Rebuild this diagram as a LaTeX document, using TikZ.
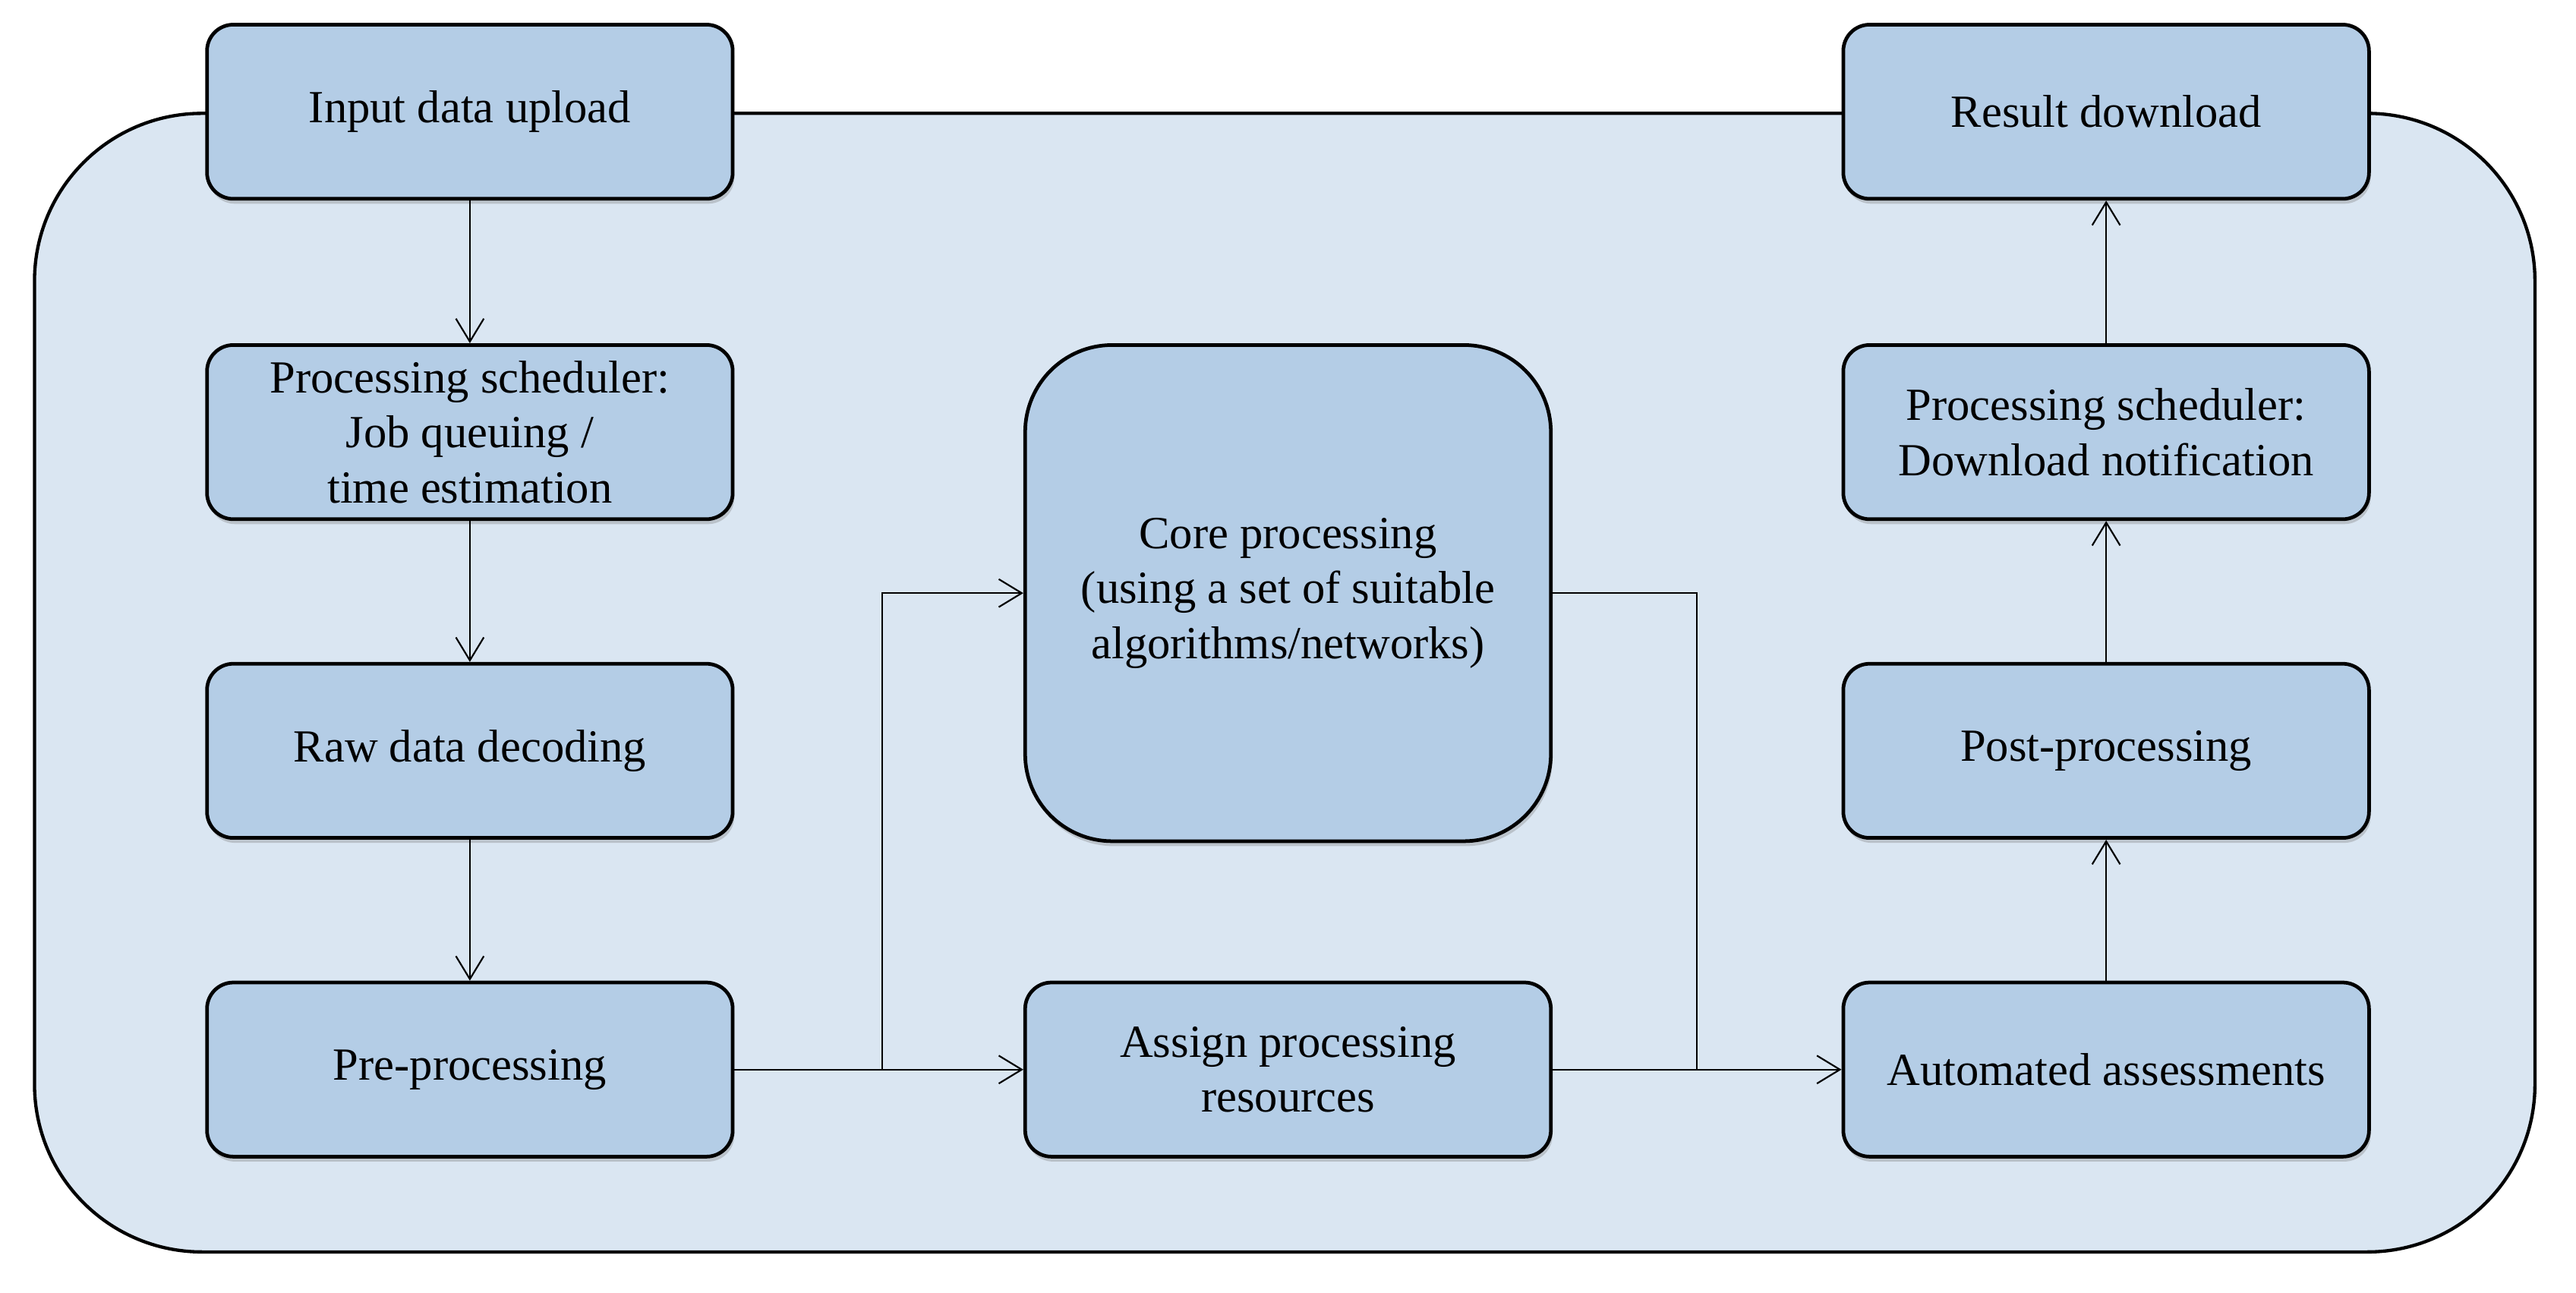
\documentclass[tikz,border=0pt]{standalone}
\usepackage{fontspec}
\setmainfont{Liberation Serif}
\usetikzlibrary{arrows.meta,shadows}
\definecolor{boxfill}{RGB}{180,205,230}
\definecolor{framefill}{RGB}{218,230,242}
\begin{document}
\begin{tikzpicture}[x=1pt,y=-1pt,
  stepbox/.style={draw=black, line width=2.2pt, fill=boxfill, rounded corners=16pt,
    minimum width=320pt, minimum height=106pt, inner sep=0pt, align=center,
    font=\fontsize{28}{33.5}\selectfont,
    drop shadow={shadow xshift=1pt, shadow yshift=-3pt, opacity=0.35}},
  corebox/.style={stepbox, minimum height=302pt, rounded corners=53pt},
  conn/.style={line width=1pt, -{Straight Barb[length=14pt,width=17pt,line width=1pt]}},
  plainline/.style={line width=1pt}
]
\useasboundingbox (0,0) rectangle (1568,787);
\draw[fill=framefill, line width=2pt, rounded corners=102pt] (21,69) rectangle (1543,762);

\node[stepbox] (inp) at (286,68) {Input data upload};
\node[stepbox] (sch) at (286,263) {Processing scheduler:\\Job queuing /\\time estimation};
\node[stepbox] (raw) at (286,457) {Raw data decoding};
\node[stepbox] (pre) at (286,651) {Pre-processing};

\node[corebox] (core) at (784,361) {Core processing\\(using a set of suitable\\algorithms/networks)};
\node[stepbox] (asg) at (784,651) {Assign processing\\resources};

\node[stepbox] (res) at (1282,68) {Result download};
\node[stepbox] (sch2) at (1282,263) {Processing scheduler:\\Download notification};
\node[stepbox] (post) at (1282,457) {Post-processing};
\node[stepbox] (aut) at (1282,651) {Automated assessments};

\coordinate (j1) at (537,651);
\coordinate (j2) at (1033,651);

\draw[conn] (inp) -- (sch);
\draw[conn] (sch) -- (raw);
\draw[conn] (raw) -- (pre);
\draw[conn] (pre) -- (asg);
\draw[conn] (j1) |- (core.west);
\draw[plainline] (core.east) -| (j2);
\draw[conn] (asg) -- (aut);
\draw[conn] (aut) -- (post);
\draw[conn] (post) -- (sch2);
\draw[conn] (sch2) -- (res);
\end{tikzpicture}
\end{document}
